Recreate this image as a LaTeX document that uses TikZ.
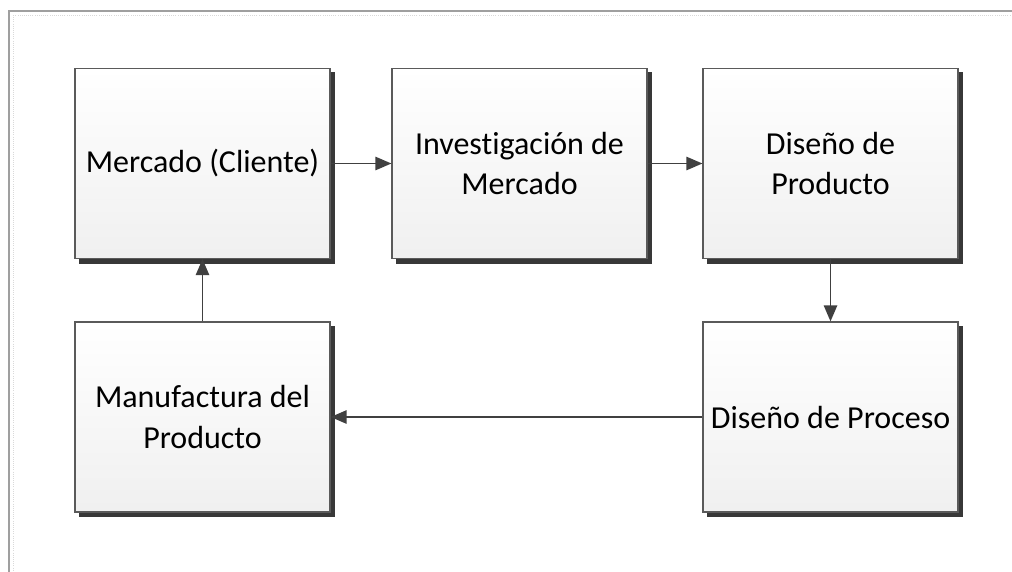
\documentclass[tikz,border=0pt]{standalone}
\usepackage{fontspec}
\setmainfont{Carlito}[Ligatures=NoCommon]
\usetikzlibrary{arrows.meta,shadows}
\definecolor{edgegray}{HTML}{5A5A5A}
\definecolor{shadowgray}{HTML}{383838}
\definecolor{arrowgray}{HTML}{404040}
\begin{document}
\begin{tikzpicture}[x=0.75pt,y=-0.75pt,
  procbox/.style={draw=edgegray,line width=0.9pt,top color=white,bottom color=black!6,
    minimum width=191.25pt,minimum height=142.5pt,align=center,inner sep=2pt,
    font=\fontsize{24}{30}\selectfont,
    copy shadow={shadow xshift=3.4pt,shadow yshift=-3.4pt,fill=shadowgray,draw=shadowgray}},
  flow/.style={draw=arrowgray,line width=1.2pt,-{Triangle[length=12pt,width=10pt]}}]
\useasboundingbox (0,0) rectangle (1012,571);
\fill[white] (0,0) rectangle (1012,571);
\draw[gray!75,line width=1.3pt] (9,11) rectangle (1030,590);
\draw[gray!30,line width=0.6pt,densely dotted] (13,15) rectangle (1030,590);
\node[procbox] (mercado) at (202.5,163.5) {Mercado (Cliente)};
\node[procbox] (invest) at (519.5,163.5) {Investigación de\\Mercado};
\node[procbox] (disprod) at (830.5,163.5) {Diseño de\\Producto};
\node[procbox] (disproc) at (830.5,417) {Diseño de Proceso};
\node[procbox] (manuf) at (202.5,417) {Manufactura del\\Producto};
\draw[flow] (mercado) -- (invest);
\draw[flow] (invest) -- (disprod);
\draw[flow] (disprod) -- (disproc);
\draw[flow] (disproc) -- (manuf);
\draw[flow] (manuf) -- (mercado);
\end{tikzpicture}
\end{document}
